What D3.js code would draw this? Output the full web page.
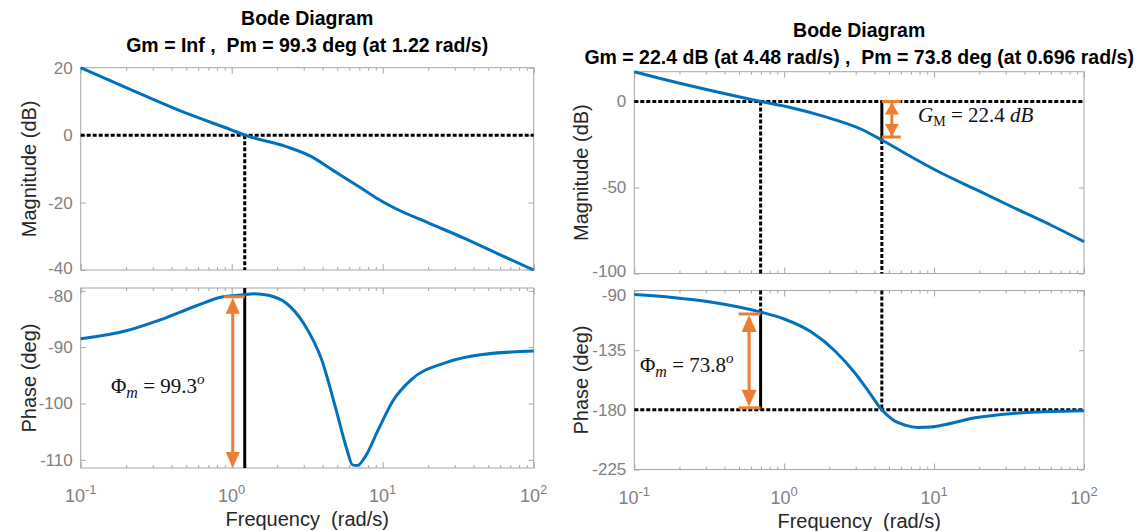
<!DOCTYPE html>
<html><head><meta charset="utf-8">
<script src="https://cdn.jsdelivr.net/npm/d3@7"></script>
<style>
body{margin:0;background:#fff;}
svg text{font-family:"Liberation Sans",Arial,Helvetica,sans-serif;}
</style></head><body>
<svg id="chart" width="1147" height="531"></svg>
<script>
// ---------------- data ----------------
const magL_w  = [0.1, 0.2, 0.5, 1.0, 1.22, 2.29, 3.35, 4.64, 6.8, 8.9, 11.7, 20.2, 34.8, 60, 100];
const magL_db = [20, 14.1, 6.5, 1.5, 0, -3.4, -6.3, -10.3, -15.0, -18.4, -21.4, -26.1, -30.6, -35.5, -40];
const phL_w   = [0.1, 0.2, 0.34, 0.59, 0.86, 1.22, 1.4, 1.75, 2.3, 3.0, 3.95, 4.9, 5.8, 6.3, 6.8, 7.6, 9.4, 11.7, 15.4, 26.5, 45.7, 100];
const phL_deg = [-88.5, -87.1, -85.1, -82.6, -81.1, -80.7, -80.5, -80.8, -82.2, -85.8, -92.3, -101, -108.2, -110.9, -111.0, -109.6, -104.5, -99.5, -95.8, -92.7, -91.3, -90.7];

const magR_w  = [0.1, 0.18, 0.33, 0.696, 1.03, 1.84, 3.3, 4.48, 6.6, 10.5, 18.8, 33.5, 60, 100];
const magR_db = [17.3, 11.6, 6.2, 0, -2.9, -8.7, -16.3, -22.4, -30.8, -40.4, -51, -61.5, -71.8, -81.5];
const phR_w   = [0.1, 0.18, 0.33, 0.696, 1.0, 1.5, 2.2, 3.0, 3.7, 4.48, 5.3, 6.4, 7.8, 9.5, 12, 18.8, 33.5, 60, 100];
const phR_deg = [-93.1, -95.2, -98.8, -106.2, -111.5, -121, -136, -153, -167, -180, -187.5, -191.5, -193.3, -193, -191, -186, -182.7, -181.2, -180.6];

const titleL = ["Bode Diagram", "Gm = Inf ,  Pm = 99.3 deg (at 1.22 rad/s)"];
const titleR = ["Bode Diagram", "Gm = 22.4 dB (at 4.48 rad/s) ,  Pm = 73.8 deg (at 0.696 rad/s)"];
const xTicks = [0.1, 1, 10, 100];
const xTickExp = ["-1", "0", "1", "2"];
const xMinor = [];
[0.1, 1, 10].forEach(d => { for (let k = 2; k <= 9; k++) xMinor.push(d * k); });
const magL_ticks = [20, 0, -20, -40];
const phL_ticks  = [-80, -90, -100, -110];
const magR_ticks = [0, -50, -100];
const phR_ticks  = [-90, -135, -180, -225];
const yLabelMag = "Magnitude (dB)", yLabelPh = "Phase (deg)", xLabel = "Frequency  (rad/s)";

const wcL = 1.22, pmL = 99.3, phAtWcL = -80.7;
const wcR = 0.696, pmR = 73.8, phAtWcR = -106.2;
const wgR = 4.48, gmR = 22.4;

// ---------------- drawing ----------------
const svg = d3.select("#chart");
const BLUE = "#0072BD", ORANGE = "#ED7D31", AX = "#a6a6a6", TICKTXT = "#808080", LBL = "#262626";

function panel(cfg) {
  const x = d3.scaleLog().domain([0.1, 100]).range(cfg.xr);
  const yM = d3.scaleLinear().domain(cfg.magDom).range(cfg.magR);
  const yP = d3.scaleLinear().domain(cfg.phDom).range(cfg.phR);
  [[yM, cfg.magTicks], [yP, cfg.phTicks]].forEach(([y, ticks], i) => {
    const g = svg.append("g");
    const [x0, x1] = x.range(), [yb, yt] = y.range();
    g.append("rect").attr("x", x0).attr("y", yt).attr("width", x1 - x0).attr("height", yb - yt)
      .attr("fill", "none").attr("stroke", AX).attr("stroke-width", 1);
    const la = g.append("g").attr("transform", `translate(${x0},0)`)
      .call(d3.axisLeft(y).tickValues(ticks).tickSize(-5).tickPadding(8).tickFormat(d => String(d)));
    g.append("g").attr("transform", `translate(${x1},0)`)
      .call(d3.axisRight(y).tickValues(ticks).tickSize(-5).tickFormat(""));
    [[yb, d3.axisBottom], [yt, d3.axisTop]].forEach(([yy, ax]) => {
      g.append("g").attr("transform", `translate(0,${yy})`).call(ax(x).tickValues(xTicks).tickSize(-6).tickFormat(""));
      g.append("g").attr("transform", `translate(0,${yy})`).call(ax(x).tickValues(xMinor).tickSize(-3).tickFormat(""));
    });
    g.selectAll(".domain").remove();
    g.selectAll(".tick line").attr("stroke", AX);
    la.selectAll("text").attr("fill", TICKTXT).attr("font-size", 17).attr("font-family", null);
    // keep the top label of a lower axes clear of the bottom label of the upper one
    if (i === 1) la.selectAll("text").filter(d => d === ticks[0]).attr("dy", "0.6em");
    if (i === 0) la.selectAll("text").filter(d => d === ticks[ticks.length - 1]).attr("dy", "0.2em");
    const lab = i === 0 ? yLabelMag : yLabelPh;
    svg.append("text").attr("transform", `translate(${cfg.ylabX},${(yb + yt) / 2}) rotate(-90)`)
      .attr("text-anchor", "middle").attr("font-size", 20).attr("fill", LBL).text(lab);
  });
  const xb = yP.range()[0];
  xTicks.forEach((t, i) => {
    const tx = svg.append("text").attr("x", x(t)).attr("y", xb + 34).attr("text-anchor", "middle")
      .attr("font-size", 18).attr("fill", TICKTXT);
    tx.append("tspan").text("10");
    tx.append("tspan").attr("dy", -8).attr("font-size", 13).text(xTickExp[i]);
  });
  svg.append("text").attr("x", (cfg.xr[0] + cfg.xr[1]) / 2).attr("y", xb + 58).attr("text-anchor", "middle")
    .attr("font-size", 20).attr("fill", LBL).style("white-space", "pre").text(xLabel);
  const cx = (cfg.xr[0] + cfg.xr[1]) / 2;
  cfg.title.forEach((t, i) => {
    svg.append("text").attr("x", cx).attr("y", cfg.titleY + i * 27).attr("text-anchor", "middle")
      .attr("font-size", 19.5).attr("font-weight", "bold").attr("fill", "#000")
      .style("white-space", "pre").text(t);
  });
  return { x, yM, yP };
}

const L = panel({ xr: [80.7, 533.7], magDom: [-40, 20], magR: [270, 67.7], phDom: [-111.45, -79.5], phR: [468, 288],
  magTicks: magL_ticks, phTicks: phL_ticks, ylabX: 36, title: titleL, titleY: 25 });
const R = panel({ xr: [634.3, 1084], magDom: [-100, 17.3], magR: [273.5, 71.7], phDom: [-225, -90], phR: [469.5, 290.5],
  magTicks: magR_ticks, phTicks: phR_ticks, ylabX: 588, title: titleR, titleY: 37 });

function dashed(x1, y1, x2, y2) {
  svg.append("line").attr("x1", x1).attr("y1", y1).attr("x2", x2).attr("y2", y2)
    .attr("stroke", "#000").attr("stroke-width", 3).attr("stroke-dasharray", "4,2");
}
function solid(x1, y1, x2, y2, col, w) {
  svg.append("line").attr("x1", x1).attr("y1", y1).attr("x2", x2).attr("y2", y2)
    .attr("stroke", col || "#000").attr("stroke-width", w || 3);
}
function head(xc, tipY, dir, len, half) {
  const by = tipY - dir * len;
  svg.append("path").attr("d", `M${xc},${tipY}L${xc - half},${by}L${xc + half},${by}Z`).attr("fill", ORANGE);
}
function curve(P, ws, vs, y) {
  const line = d3.line().x(d => P.x(d[0])).y(d => y(d[1])).curve(d3.curveMonotoneX);
  svg.append("path").datum(ws.map((w, i) => [w, vs[i]])).attr("d", line)
    .attr("fill", "none").attr("stroke", BLUE).attr("stroke-width", 3).attr("stroke-linejoin", "round");
}

// guides
dashed(L.x.range()[0], L.yM(0), L.x.range()[1], L.yM(0));
dashed(L.x(wcL), L.yM(0), L.x(wcL), L.yM.range()[0]);
solid(L.x(wcL), L.yP.range()[1], L.x(wcL), L.yP.range()[0]);
dashed(R.x.range()[0], R.yM(0), R.x.range()[1], R.yM(0));
dashed(R.x(wcR), R.yM(0), R.x(wcR), R.yM.range()[0]);
solid(R.x(wgR), R.yM(0), R.x(wgR), R.yM(-gmR));
dashed(R.x(wgR), R.yM(-gmR), R.x(wgR), R.yM.range()[0]);
dashed(R.x.range()[0], R.yP(-180), R.x.range()[1], R.yP(-180));
dashed(R.x(wcR), R.yP.range()[1], R.x(wcR), R.yP(phAtWcR));
solid(R.x(wcR), R.yP(phAtWcR), R.x(wcR), R.yP(-180));
dashed(R.x(wgR), R.yP.range()[1], R.x(wgR), R.yP(-180));

// curves
curve(L, magL_w, magL_db, L.yM);
curve(L, phL_w, phL_deg, L.yP);
curve(R, magR_w, magR_db, R.yM);
curve(R, phR_w, phR_deg, R.yP);

// orange annotations
{
  const xs = L.x(wcL) - 12, yt = L.yP(phAtWcL) + 2, yb = L.yP.range()[0];
  solid(L.x(wcL) - 21, yt, L.x(wcL), yt, ORANGE, 3);
  solid(xs, yt + 12, xs, yb - 12, ORANGE, 3);
  head(xs, yt + 1, -1, 16, 7);
  head(xs, yb, 1, 16, 7);
}
{
  const xw = R.x(wcR), xs = xw - 11.5, yt = R.yP(phAtWcR) + 2, yb = R.yP(-180) - 2;
  solid(xw - 22, yt, xw, yt, ORANGE, 3);
  solid(xw - 22, yb, xw, yb, ORANGE, 3);
  solid(xs, yt + 12, xs, yb - 12, ORANGE, 3);
  head(xs, yt + 1, -1, 17, 7.5);
  head(xs, yb - 1, 1, 17, 7.5);
}
{
  const xw = R.x(wgR), xs = xw + 10, yt = R.yM(0), yb = R.yM(-gmR) - 3;
  solid(xw, yt, xw + 19, yt, ORANGE, 3);
  solid(xw, yb, xw + 19, yb, ORANGE, 3);
  solid(xs, yt, xs, yb, ORANGE, 3);
  head(xs, yt + 1, -1, 12, 7);
  head(xs, yb - 1, 1, 12, 7);
}

function mathLabel(xp, yp, parts) {
  const t = svg.append("text").attr("x", xp).attr("y", yp)
    .style("font-family", "'Liberation Serif','DejaVu Serif',serif").attr("font-size", 21).attr("fill", "#111")
    .style("white-space", "pre");
  parts.forEach(p => {
    const s = t.append("tspan").text(p.t);
    if (p.it) s.attr("font-style", "italic");
    if (p.dy) s.attr("dy", p.dy);
    if (p.fs) s.attr("font-size", p.fs);
  });
}
mathLabel(111, 393, [{ t: "\u03A6" }, { t: "m", it: 1, dy: 5, fs: 16 }, { t: " = " + pmL.toFixed(1), dy: -5 }, { t: "o", it: 1, dy: -9, fs: 15 }]);
mathLabel(640, 372, [{ t: "\u03A6" }, { t: "m", it: 1, dy: 5, fs: 16 }, { t: " = " + pmR.toFixed(1), dy: -5 }, { t: "o", it: 1, dy: -9, fs: 15 }]);
mathLabel(918, 122, [{ t: "G", it: 1 }, { t: "M", dy: 4, fs: 14 }, { t: " = " + gmR.toFixed(1) + " ", dy: -4 }, { t: "dB", it: 1 }]);
</script>
</body></html>
